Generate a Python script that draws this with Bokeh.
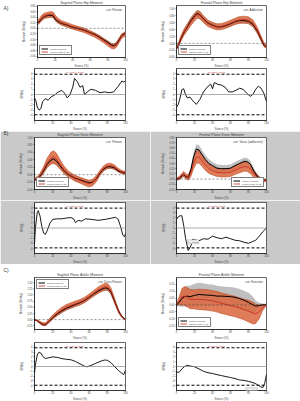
from bokeh.plotting import figure
from bokeh.layouts import column, row
from bokeh.models import (Span, Label, Range1d, FixedTicker, NumeralTickFormatter, LinearAxis,
                          Title, CustomJSTickFormatter)
from bokeh.embed import file_html
from bokeh.resources import INLINE

# ------------------------------------------------------------------ data
X_TICKS = [0, 20, 40, 60, 80, 100]
SPM_TICKS = [-4, -3, -2, -1, 0, 1, 2, 3, 4]
T_CRIT = 3.9
CRIT_TEXT = "α=0.05:  t*=3.900"
SECTION_LABELS = ["A)", "B)", "C)"]
LEGEND_LABELS = ["Control Moment", "Moment with IT (st)"]
X_LABEL = "Stance (%)"
Y_LABEL_MOMENT = "Moment (Nm/kg)"
Y_LABEL_SPM = "SPM{t}"

TITLES = ["Sagittal Plane Hip Moment", "Frontal Plane Hip Moment",
          "Sagittal Plane Knee Moment", "Frontal Plane Knee Moment",
          "Sagittal Plane Ankle Moment", "Frontal Plane Ankle Moment"]
NOTES = ["+ve: Flexion", "+ve: Adduction", "+ve: Flexion",
         "+ve: Varus (adduction)", "+ve: Dorsi Flexion", "+ve: Eversion"]

# Hip sagittal
hs_x = [0, 2, 5, 8, 12, 15, 18, 20, 23, 27, 33, 40, 45, 50, 55, 60, 65, 70, 75, 80, 84, 87, 90, 93, 96, 100]
hs_ctrl = [0.18, 0.23, 0.36, 0.43, 0.46, 0.47, 0.44, 0.33, 0.25, 0.18, 0.12, 0.04, 0.0, -0.04, -0.09, -0.16, -0.22, -0.31, -0.41, -0.51, -0.6, -0.62, -0.56, -0.4, -0.25, -0.18]
hs_ctrl_sd = [0.06, 0.07, 0.08, 0.08, 0.08, 0.08, 0.08, 0.08, 0.07, 0.07, 0.06, 0.06, 0.06, 0.06, 0.06, 0.06, 0.06, 0.07, 0.07, 0.07, 0.07, 0.07, 0.07, 0.07, 0.06, 0.06]
hs_it = [0.2, 0.26, 0.38, 0.45, 0.48, 0.5, 0.48, 0.38, 0.28, 0.2, 0.13, 0.05, 0.0, -0.04, -0.1, -0.17, -0.24, -0.33, -0.44, -0.55, -0.64, -0.65, -0.58, -0.42, -0.27, -0.2]
hs_it_sd = [0.08, 0.09, 0.1, 0.1, 0.1, 0.1, 0.1, 0.1, 0.09, 0.08, 0.08, 0.08, 0.08, 0.08, 0.08, 0.08, 0.08, 0.08, 0.08, 0.09, 0.09, 0.09, 0.09, 0.09, 0.08, 0.08]
hs_yr = (-1.05, 0.82)
hs_yt = [-1.0, -0.8, -0.6, -0.4, -0.2, 0.0, 0.2, 0.4, 0.6, 0.8]
hs_spm_x = [0, 1.5, 3, 5, 7, 9, 12, 15, 18, 22, 25, 30, 33, 36, 39, 42, 44, 47, 50, 53, 55, 58, 62, 67, 72, 77, 82, 87, 92, 96, 98, 100]
hs_spm_t = [-0.65, -1.2, -2.4, -3.0, -2.7, -1.35, -0.8, -1.1, -0.5, -0.1, 0.35, 0.8, 0.25, -0.65, -0.05, 1.4, 3.1, 2.5, 1.4, 1.7, -0.05, 0.5, 1.0, 0.8, 0.35, 0.5, 0.35, 0.5, 1.6, 2.6, 2.4, 2.6]

# Hip frontal
hf_x = [0, 2, 5, 8, 12, 16, 20, 23, 26, 30, 35, 40, 45, 50, 55, 60, 65, 70, 75, 80, 85, 90, 94, 97, 100]
hf_ctrl = [-0.15, -0.06, 0.14, 0.3, 0.48, 0.66, 0.8, 0.87, 0.83, 0.71, 0.59, 0.53, 0.48, 0.48, 0.52, 0.57, 0.63, 0.66, 0.66, 0.64, 0.55, 0.35, 0.12, -0.05, -0.11]
hf_ctrl_sd = [0.05, 0.06, 0.07, 0.08, 0.09, 0.1, 0.1, 0.1, 0.1, 0.09, 0.08, 0.08, 0.07, 0.07, 0.07, 0.08, 0.08, 0.08, 0.08, 0.08, 0.08, 0.07, 0.06, 0.05, 0.05]
hf_it = [-0.13, -0.05, 0.15, 0.31, 0.47, 0.63, 0.76, 0.84, 0.82, 0.7, 0.58, 0.52, 0.48, 0.49, 0.53, 0.58, 0.64, 0.68, 0.69, 0.67, 0.58, 0.37, 0.14, -0.03, -0.1]
hf_it_sd = [0.05, 0.06, 0.08, 0.09, 0.1, 0.11, 0.11, 0.11, 0.11, 0.1, 0.09, 0.09, 0.09, 0.09, 0.09, 0.09, 0.09, 0.1, 0.1, 0.1, 0.1, 0.09, 0.07, 0.06, 0.05]
hf_yr = (-0.41, 1.1)
hf_yt = [-0.4, -0.2, 0.0, 0.2, 0.4, 0.6, 0.8, 1.0]
hf_spm_x = [0, 2, 4, 6, 8, 10, 12, 15, 18, 22, 26, 30, 34, 38, 40, 42, 46, 50, 54, 58, 62, 66, 70, 74, 78, 82, 85, 88, 91, 94, 97, 100]
hf_spm_t = [-2.4, -1.9, -0.65, 0.95, 1.1, 0.0, -0.65, -0.5, -1.2, -1.9, -0.95, 0.5, 1.4, 2.0, 1.1, 2.3, 1.95, 1.8, 1.4, 0.5, 0.5, 0.8, 1.2, 1.0, 0.25, -0.35, 0.05, 1.0, 1.6, 1.2, 0.25, -1.35]

# Knee sagittal
ks_x = [0, 3, 6, 10, 14, 18, 21, 24, 28, 33, 38, 44, 50, 56, 60, 64, 68, 72, 76, 80, 84, 88, 92, 96, 100]
ks_ctrl = [-0.14, -0.11, -0.05, 0.1, 0.28, 0.39, 0.42, 0.37, 0.24, 0.09, -0.01, -0.09, -0.14, -0.19, -0.22, -0.2, -0.11, 0.04, 0.15, 0.21, 0.21, 0.18, 0.1, 0.06, 0.04]
ks_ctrl_sd = [0.04, 0.04, 0.05, 0.07, 0.09, 0.1, 0.1, 0.1, 0.09, 0.07, 0.06, 0.06, 0.06, 0.06, 0.06, 0.06, 0.06, 0.05, 0.05, 0.05, 0.05, 0.05, 0.04, 0.04, 0.04]
ks_it = [-0.13, -0.1, -0.03, 0.13, 0.32, 0.44, 0.47, 0.42, 0.28, 0.11, 0.0, -0.09, -0.15, -0.21, -0.24, -0.21, -0.11, 0.05, 0.17, 0.23, 0.24, 0.2, 0.12, 0.07, 0.05]
ks_it_sd = [0.04, 0.05, 0.06, 0.09, 0.13, 0.16, 0.17, 0.16, 0.13, 0.1, 0.08, 0.08, 0.08, 0.09, 0.09, 0.09, 0.08, 0.07, 0.07, 0.07, 0.07, 0.06, 0.05, 0.04, 0.04]
ks_yr = (-0.4, 1.0)
ks_yt = [-0.4, -0.2, 0.0, 0.2, 0.4, 0.6, 0.8, 1.0]
ks_spm_x = [0, 1, 3, 4, 6, 8, 10, 12, 14, 17, 20, 25, 30, 35, 40, 43, 45, 48, 52, 56, 62, 70, 78, 85, 89, 92, 95, 97, 99, 100]
ks_spm_t = [-3.2, 0.0, 3.0, 3.4, 2.4, 0.35, -1.0, -1.25, -0.5, 0.95, 1.7, 1.8, 1.8, 1.95, 2.05, 1.8, 1.05, 1.5, 1.35, 1.8, 1.7, 1.5, 1.7, 1.95, 2.1, 1.7, 0.05, -1.4, -1.7, -1.0]

# Knee frontal
kf_x = [0, 3, 6, 8, 10, 13, 16, 19, 22, 25, 28, 32, 36, 40, 45, 50, 55, 60, 65, 70, 75, 78, 82, 86, 90, 94, 100]
kf_ctrl = [0.0, 0.01, 0.06, 0.09, 0.05, 0.03, 0.18, 0.43, 0.58, 0.56, 0.48, 0.38, 0.3, 0.26, 0.21, 0.2, 0.2, 0.21, 0.26, 0.3, 0.34, 0.34, 0.29, 0.15, 0.05, 0.0, -0.03]
kf_ctrl_sd = [0.02, 0.03, 0.04, 0.04, 0.04, 0.04, 0.06, 0.08, 0.09, 0.09, 0.09, 0.08, 0.08, 0.07, 0.07, 0.07, 0.07, 0.07, 0.07, 0.07, 0.07, 0.07, 0.07, 0.06, 0.04, 0.03, 0.02]
kf_it = [0.0, 0.02, 0.07, 0.1, 0.06, 0.03, 0.12, 0.3, 0.42, 0.43, 0.36, 0.27, 0.2, 0.16, 0.13, 0.12, 0.12, 0.13, 0.17, 0.21, 0.24, 0.24, 0.2, 0.1, 0.03, -0.01, -0.03]
kf_it_sd = [0.02, 0.03, 0.04, 0.05, 0.05, 0.05, 0.07, 0.1, 0.12, 0.12, 0.11, 0.1, 0.09, 0.08, 0.08, 0.08, 0.08, 0.08, 0.08, 0.09, 0.09, 0.09, 0.09, 0.07, 0.05, 0.03, 0.02]
kf_yr = (-0.2, 0.8)
kf_yt = [-0.2, -0.1, 0.0, 0.1, 0.2, 0.3, 0.4, 0.5, 0.6, 0.7, 0.8]
kf_spm_x = [0, 2, 4, 6, 8, 10, 13, 16, 18, 22, 25, 30, 35, 40, 45, 50, 55, 60, 65, 70, 75, 80, 84, 88, 92, 96, 100]
kf_spm_t = [1.7, 2.2, 2.4, 2.4, 0.5, -2.0, -4.4, -3.5, -2.2, -2.4, -2.5, -2.1, -2.2, -1.6, -1.9, -2.1, -1.8, -2.1, -2.4, -2.5, -2.8, -3.0, -2.7, -2.4, -1.6, -0.7, 0.0]
kf_p_text = "p = 0.021"
kf_p_pos = (12, -2.7)

# Ankle sagittal
as_x = [0, 3, 6, 9, 12, 15, 20, 25, 30, 35, 40, 45, 50, 55, 60, 65, 70, 75, 78, 81, 84, 87, 90, 93, 96, 100]
as_ctrl = [0.0, -0.05, -0.13, -0.2, -0.21, -0.11, 0.08, 0.23, 0.35, 0.46, 0.53, 0.61, 0.68, 0.77, 0.9, 1.03, 1.15, 1.24, 1.28, 1.25, 1.11, 0.84, 0.56, 0.3, 0.13, 0.0]
as_ctrl_sd = [0.01, 0.03, 0.04, 0.05, 0.05, 0.06, 0.07, 0.08, 0.08, 0.09, 0.09, 0.09, 0.09, 0.09, 0.09, 0.09, 0.1, 0.1, 0.1, 0.1, 0.1, 0.09, 0.07, 0.05, 0.03, 0.01]
as_it = [0.0, -0.04, -0.12, -0.18, -0.19, -0.09, 0.1, 0.26, 0.39, 0.5, 0.57, 0.64, 0.7, 0.79, 0.92, 1.06, 1.19, 1.29, 1.33, 1.3, 1.15, 0.86, 0.56, 0.29, 0.12, -0.01]
as_it_sd = [0.01, 0.03, 0.05, 0.06, 0.06, 0.07, 0.09, 0.1, 0.11, 0.11, 0.11, 0.11, 0.11, 0.11, 0.11, 0.12, 0.13, 0.14, 0.14, 0.14, 0.13, 0.11, 0.09, 0.06, 0.04, 0.01]
as_yr = (-0.4, 1.7)
as_yt = [-0.25, 0.0, 0.25, 0.5, 0.75, 1.0, 1.25, 1.5]
as_spm_x = [0, 1, 3, 5, 7, 9, 12, 15, 20, 25, 30, 35, 40, 45, 50, 55, 58, 62, 67, 72, 77, 80, 84, 88, 92, 96, 98, 100]
as_spm_t = [-1.4, 0.35, 2.4, 3.0, 2.8, 2.1, 1.65, 1.8, 2.0, 1.9, 1.65, 1.5, 1.4, 1.05, 0.55, 0.05, -0.05, 0.2, 0.65, 1.05, 1.35, 1.3, 0.8, 0.0, -0.8, -1.4, -1.7, -0.8]

# Ankle frontal
af_x = [0, 3, 6, 9, 12, 15, 20, 25, 30, 35, 40, 45, 50, 55, 60, 65, 70, 75, 80, 85, 88, 92, 96, 100]
af_ctrl = [0.0, 0.018, 0.046, 0.06, 0.064, 0.06, 0.069, 0.076, 0.073, 0.071, 0.069, 0.064, 0.064, 0.062, 0.06, 0.055, 0.046, 0.034, 0.018, 0.0, -0.009, -0.005, 0.0, 0.0]
af_ctrl_sd = [0.005, 0.03, 0.06, 0.07, 0.075, 0.08, 0.085, 0.085, 0.085, 0.08, 0.08, 0.075, 0.07, 0.07, 0.07, 0.07, 0.07, 0.07, 0.07, 0.06, 0.04, 0.02, 0.01, 0.005]
af_it = [0.0, 0.03, 0.06, 0.064, 0.055, 0.042, 0.04, 0.04, 0.038, 0.035, 0.03, 0.022, 0.012, 0.004, -0.005, -0.012, -0.023, -0.034, -0.045, -0.06, -0.066, -0.05, -0.018, 0.0]
af_it_sd = [0.005, 0.03, 0.06, 0.07, 0.07, 0.07, 0.07, 0.075, 0.075, 0.075, 0.075, 0.075, 0.075, 0.075, 0.075, 0.075, 0.075, 0.075, 0.08, 0.08, 0.07, 0.05, 0.02, 0.005]
af_yr = (-0.18, 0.2)
af_yt = [-0.15, -0.1, -0.05, 0.0, 0.05, 0.1, 0.15]
af_spm_x = [0, 3, 6, 9, 12, 15, 20, 25, 30, 35, 40, 45, 50, 55, 60, 65, 70, 75, 80, 85, 89, 93, 96, 98, 100]
af_spm_t = [-1.2, -1.2, -0.5, 0.0, 0.25, 0.1, -0.05, -0.5, -1.0, -1.3, -1.45, -1.7, -1.9, -2.1, -2.3, -2.5, -2.8, -2.9, -3.1, -3.35, -3.7, -4.2, -4.4, -3.5, -1.6]
af_p_text = "p < 0.001"
af_p_pos = (77, -4.85)

# ------------------------------------------------------------------ style
FONT = "Liberation Sans"
GRAY_BG = "#c9c9c9"
CTRL_BAND = "#bcbcbc"
IT_BAND = "#d9663d"
IT_EDGE = "#b4421d"
IT_LINE = "#c4281c"
SPM_YR = (-5, 5)


def base_fig(side, height, top, bottom, yr, bg, yt, ylab, ylab_standoff, title=None):
    bl, br = (34, 25) if side == "L" else (26, 34)
    p = figure(width=150, height=height, x_range=Range1d(0, 100), y_range=Range1d(*yr),
               title=None, output_backend="svg", toolbar_location=None,
               min_border_left=bl, min_border_right=br, min_border_top=top,
               min_border_bottom=bottom)
    p.background_fill_color = "white"
    p.border_fill_color = bg
    p.outline_line_color = "black"
    p.outline_line_width = 0.6
    p.xgrid.visible = False
    p.ygrid.visible = False
    p.xaxis.ticker = FixedTicker(ticks=X_TICKS)
    p.yaxis.ticker = FixedTicker(ticks=yt)
    for ax in p.axis:
        ax.major_label_text_font_size = "2.6px"
        ax.major_label_text_font = FONT
        ax.major_tick_out = 1
        ax.major_tick_in = 0
        ax.minor_tick_out = 0
        ax.minor_tick_in = 0
        ax.axis_line_width = 0.5
        ax.major_tick_line_width = 0.5
    p.xaxis.major_label_standoff = 0
    p.yaxis.major_label_standoff = 1
    # axis titles as Title panels (x label below the tick labels, y label left)
    p.add_layout(Title(text=X_LABEL, align="center", vertical_align="top", standoff=-1,
                       text_font_size="2.8px", text_font=FONT, text_font_style="normal"), "below")
    p.add_layout(Title(text=ylab, align="center", vertical_align="middle", standoff=ylab_standoff,
                       text_font_size="2.8px", text_font=FONT, text_font_style="normal"), "left")
    if title:
        p.add_layout(Title(text=title, align="center", vertical_align="middle", standoff=-1.5,
                           text_font_size="3.6px", text_font=FONT, text_font_style="normal"), "above")
    return p


def moment_fig(k, x, c, csd, m, msd, yr, yt, leg_loc, side, bg, height, top, bottom):
    p = base_fig(side, height, top, bottom, yr, bg, yt, Y_LABEL_MOMENT, 0, TITLES[k])
    p.yaxis.formatter = NumeralTickFormatter(format="0.00")
    c_lo = [a - b for a, b in zip(c, csd)]
    c_hi = [a + b for a, b in zip(c, csd)]
    m_lo = [a - b for a, b in zip(m, msd)]
    m_hi = [a + b for a, b in zip(m, msd)]
    p.varea(x=x, y1=c_lo, y2=c_hi, fill_color=CTRL_BAND, fill_alpha=0.95)
    p.varea(x=x, y1=m_lo, y2=m_hi, fill_color=IT_BAND, fill_alpha=0.85)
    p.line(x, m_lo, line_color=IT_EDGE, line_width=0.5)
    p.line(x, m_hi, line_color=IT_EDGE, line_width=0.5)
    p.add_layout(Span(location=0, dimension="width", line_color="#444444",
                      line_dash="2 2", line_width=0.6))
    p.line(x, c, line_color="black", line_width=1.0, legend_label=LEGEND_LABELS[0])
    p.line(x, m, line_color=IT_LINE, line_width=0.8, legend_label=LEGEND_LABELS[1])
    lg = p.legend[0]
    lg.location = leg_loc
    lg.label_text_font_size = "2.3px"
    lg.label_text_font = FONT
    lg.glyph_width = 7
    lg.glyph_height = 3
    lg.label_height = 3
    lg.label_standoff = 2
    lg.spacing = 0
    lg.padding = 1
    lg.margin = 2
    lg.border_line_color = "black"
    lg.border_line_width = 0.4
    lg.background_fill_alpha = 1.0
    span = yr[1] - yr[0]
    p.add_layout(Label(x=96, y=yr[1] - 0.075 * span, text=NOTES[k], text_align="right",
                       text_baseline="middle", text_font_size="3px", text_font=FONT))
    return p


def spm_fig(x, t, side, bg, height, top, bottom, ptext=None, ppos=None):
    p = base_fig(side, height, top, bottom, SPM_YR, bg, SPM_TICKS, Y_LABEL_SPM, 4)
    p.add_layout(Span(location=0, dimension="width", line_color="#8a8a8a", line_width=0.7))
    for loc in (T_CRIT, -T_CRIT):
        p.add_layout(Span(location=loc, dimension="width", line_color="black",
                          line_dash="3 2", line_width=1.0))
    p.line(x, t, line_color="black", line_width=0.9)
    p.add_layout(Label(x=45, y=T_CRIT + 0.25, text=CRIT_TEXT, text_align="center",
                       text_baseline="bottom", text_font_size="2.3px", text_font=FONT,
                       text_color="#d01010"))
    if ptext:
        p.add_layout(Label(x=ppos[0], y=ppos[1], text=ptext, text_align="left",
                           text_baseline="middle", text_font_size="2.3px", text_font=FONT,
                           background_fill_color="#eeeeee", border_line_color="#999999",
                           border_line_width=0.4, padding=1))
    return p


def section_label_axis(p, idx, yr, frame_h, px_below_top):
    """Section letter as the single tick label of an outer left axis (inside the frame span)."""
    span = yr[1] - yr[0]
    yv = yr[1] - px_below_top * span / frame_h
    eps = span * 0.002
    ax = LinearAxis(ticker=FixedTicker(ticks=[yv]), bounds=(yv - eps, yv + eps),
                    formatter=CustomJSTickFormatter(args=dict(t=SECTION_LABELS[idx]), code="return t;"),
                    major_label_text_font_size="5px", major_label_text_font=FONT,
                    major_label_standoff=13, axis_line_color=None, major_tick_line_color=None,
                    minor_tick_line_color=None, major_tick_out=0, major_tick_in=0,
                    minor_tick_out=0, minor_tick_in=0)
    p.add_layout(ax, "left")


def section_label_title(p, idx, standoff):
    """Section letter as a second, left-shifted title above the plot title."""
    p.add_layout(Title(text=SECTION_LABELS[idx], align="left", vertical_align="bottom",
                       offset=-31, standoff=standoff, text_font_size="5px", text_font=FONT,
                       text_font_style="normal"), "above")


W = "white"
# Section A  (y 0 .. 131)
a1 = moment_fig(0, hs_x, hs_ctrl, hs_ctrl_sd, hs_it, hs_it_sd, hs_yr, hs_yt, "bottom_left", "L", W, 68, 5, 10)
a2 = moment_fig(1, hf_x, hf_ctrl, hf_ctrl_sd, hf_it, hf_it_sd, hf_yr, hf_yt, "bottom_left", "R", W, 68, 5, 10)
a3 = spm_fig(hs_spm_x, hs_spm_t, "L", W, 63, 0, 9)
a4 = spm_fig(hf_spm_x, hf_spm_t, "R", W, 63, 0, 9)
section_label_axis(a1, 0, hs_yr, 53, 3)
# Section B  (y 131 .. 264)
b1 = moment_fig(2, ks_x, ks_ctrl, ks_ctrl_sd, ks_it, ks_it_sd, ks_yr, ks_yt, "bottom_left", "L", GRAY_BG, 69, 6, 10)
b2 = moment_fig(3, kf_x, kf_ctrl, kf_ctrl_sd, kf_it, kf_it_sd, kf_yr, kf_yt, "bottom_right", "R", GRAY_BG, 69, 6, 10)
b3 = spm_fig(ks_spm_x, ks_spm_t, "L", GRAY_BG, 64, 2, 9)
b4 = spm_fig(kf_spm_x, kf_spm_t, "R", GRAY_BG, 64, 2, 9, kf_p_text, kf_p_pos)
section_label_title(b1, 1, -7.5)
# Section C  (y 264 .. 401)
c1 = moment_fig(4, as_x, as_ctrl, as_ctrl_sd, as_it, as_it_sd, as_yr, as_yt, "top_left", "L", W, 76, 13, 10)
c2 = moment_fig(5, af_x, af_ctrl, af_ctrl_sd, af_it, af_it_sd, af_yr, af_yt, "bottom_left", "R", W, 76, 13, 10)
c3 = spm_fig(as_spm_x, as_spm_t, "L", W, 61, 2, 9)
c4 = spm_fig(af_spm_x, af_spm_t, "R", W, 61, 2, 9, af_p_text, af_p_pos)
section_label_title(c1, 2, 0)

layout = column(row(a1, a2, spacing=0), row(a3, a4, spacing=0),
                row(b1, b2, spacing=0), row(b3, b4, spacing=0),
                row(c1, c2, spacing=0), row(c3, c4, spacing=0), spacing=0)

open("out.html", "w").write(file_html(layout, INLINE))
